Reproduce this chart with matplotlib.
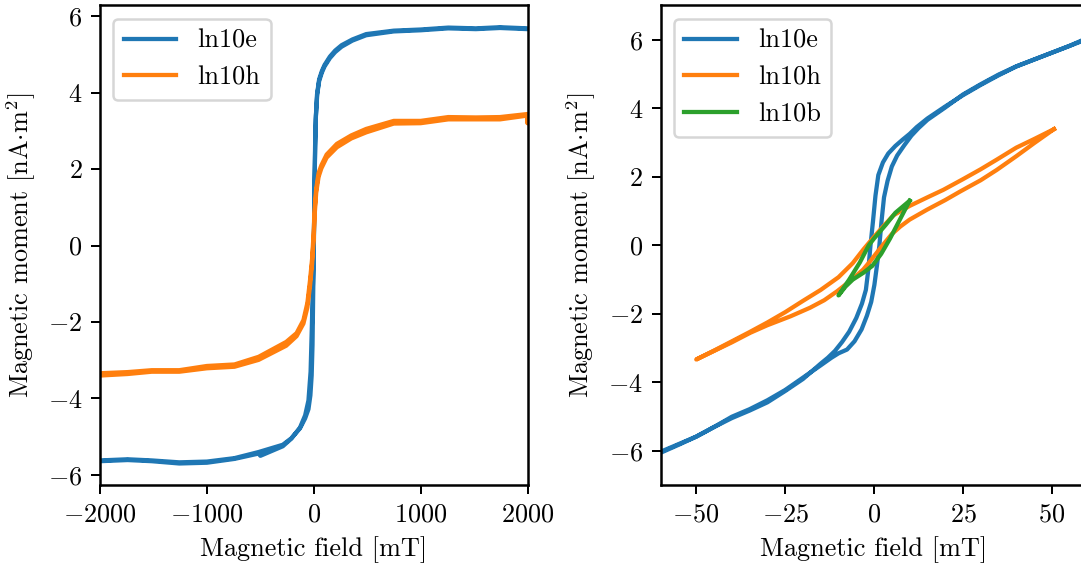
import matplotlib
matplotlib.use("Agg")
import matplotlib.pyplot as plt

plt.rcParams['font.family'] = ['cmr10']
plt.rcParams['mathtext.fontset'] = 'cm'
plt.rcParams['axes.formatter.use_mathtext'] = True
plt.rcParams['font.size'] = 10.5
plt.rcParams['axes.linewidth'] = 1.0

# ---------------- Left panel data (full field range) ----------------
# ln10e : ascending and descending field branches
e_full_up_x = [-2000, -1742, -1516, -1258, -1000, -742, -516, -500, -290, -210, -129, -81, -50, -30, -19, -8, 0, 6, 12, 20, 32, 50, 75, 100, 150, 200, 260, 361, 490, 748, 1000, 1258, 1516, 1742, 2000]
e_full_up_y = [-5.64, -5.61, -5.64, -5.70, -5.68, -5.58, -5.44, -5.50, -5.25, -5.05, -4.76, -4.44, -4.05, -3.30, -2.20, -1.00, 0.10, 1.30, 2.60, 3.40, 3.95, 4.30, 4.52, 4.68, 4.90, 5.06, 5.20, 5.36, 5.50, 5.60, 5.63, 5.68, 5.66, 5.69, 5.66]
e_full_dn_x = [2000, 1742, 1516, 1258, 1000, 748, 490, 361, 260, 200, 150, 100, 75, 50, 30, 18, 8, 0, -6, -12, -20, -32, -50, -81, -129, -210, -290, -516, -742, -1000, -1258, -1516, -1742, -2000]
e_full_dn_y = [5.68, 5.71, 5.68, 5.70, 5.65, 5.62, 5.53, 5.39, 5.24, 5.10, 4.94, 4.72, 4.56, 4.35, 3.95, 3.30, 1.80, -0.10, -1.30, -2.60, -3.40, -3.92, -4.28, -4.52, -4.78, -5.04, -5.21, -5.40, -5.56, -5.65, -5.67, -5.62, -5.59, -5.62]

# ln10h
h_full_up_x = [-2000, -1742, -1516, -1258, -1000, -742, -516, -258, -161, -97, -60, -35, -16, 0, 8, 23, 45, 71, 120, 216, 350, 490, 748, 1000, 1258, 1516, 1742, 2000, 2000]
h_full_up_y = [-3.40, -3.36, -3.30, -3.30, -3.21, -3.17, -2.99, -2.62, -2.37, -2.04, -1.62, -1.05, -0.48, 0.25, 0.80, 1.40, 1.80, 2.02, 2.30, 2.57, 2.80, 2.96, 3.19, 3.20, 3.30, 3.30, 3.30, 3.40, 3.20]
h_full_dn_x = [2000, 1742, 1516, 1258, 1000, 748, 490, 350, 216, 120, 71, 45, 23, 8, 0, -16, -35, -60, -97, -161, -258, -516, -742, -1000, -1258, -1516, -1742, -2000]
h_full_dn_y = [3.44, 3.36, 3.35, 3.36, 3.26, 3.26, 3.05, 2.88, 2.66, 2.38, 2.10, 1.90, 1.50, 0.95, 0.40, -0.35, -0.90, -1.50, -1.95, -2.29, -2.52, -2.91, -3.11, -3.15, -3.26, -3.26, -3.31, -3.34]

# ---------------- Right panel data (low field range) ----------------
# ln10e
e_low_dn_x = [60, 55, 50, 45, 40, 35, 30, 25, 20, 15, 12, 10, 8, 6, 4, 2.5, 1.2, 0.4, -0.3, -1.0, -1.6, -2.3, -3.4, -5, -7, -9, -11, -13, -15, -20, -25, -30, -35, -40, -45, -50, -55, -60]
e_low_dn_y = [6.05, 5.82, 5.62, 5.42, 5.22, 4.96, 4.68, 4.38, 4.05, 3.70, 3.45, 3.25, 3.08, 2.90, 2.68, 2.42, 2.05, 1.45, 0.70, 0.00, -0.70, -1.30, -1.70, -2.12, -2.52, -2.82, -3.08, -3.28, -3.45, -3.90, -4.25, -4.58, -4.82, -5.04, -5.30, -5.58, -5.80, -6.02]
e_low_up_x = [-60, -55, -50, -45, -40, -35, -30, -25, -20, -15, -12, -10, -7.6, -5.5, -3.5, -2.0, -0.8, 0.1, 0.8, 1.5, 2.1, 2.8, 3.8, 5.0, 6.5, 8.5, 10.5, 12.5, 15, 20, 25, 30, 35, 40, 45, 50, 55, 60]
e_low_up_y = [-6.05, -5.82, -5.58, -5.30, -5.00, -4.78, -4.52, -4.22, -3.86, -3.50, -3.28, -3.15, -3.04, -2.80, -2.45, -2.05, -1.65, -1.15, -0.60, 0.00, 0.70, 1.40, 1.88, 2.30, 2.62, 2.92, 3.20, 3.42, 3.66, 4.02, 4.40, 4.70, 4.98, 5.22, 5.42, 5.62, 5.82, 6.02]

# ln10h
h_low_dn_x = [50.6, 45, 40, 34.5, 30, 25, 19.5, 15, 10, 5.5, 3, 0, -3, -6, -10, -15, -20, -25, -30, -35, -40, -45, -50]
h_low_dn_y = [3.39, 3.10, 2.85, 2.50, 2.22, 1.93, 1.62, 1.40, 1.15, 0.88, 0.60, 0.25, -0.12, -0.52, -0.93, -1.30, -1.62, -1.95, -2.25, -2.53, -2.80, -3.07, -3.33]
h_low_up_x = [-50, -45, -40, -34.8, -30, -23.5, -18, -14, -10.4, -6, -3, -1, 2, 5, 7.4, 10, 14.9, 20, 24.2, 30, 34.5, 40, 45, 50.6]
h_low_up_y = [-3.33, -3.08, -2.83, -2.55, -2.33, -2.07, -1.82, -1.60, -1.34, -0.98, -0.70, -0.45, -0.05, 0.33, 0.55, 0.75, 1.04, 1.32, 1.57, 1.90, 2.20, 2.60, 2.98, 3.39]

# ln10b
b_low_dn_x = [10, 6, 3.3, 0, -1.5, -4, -7, -10]
b_low_dn_y = [1.30, 0.95, 0.60, 0.20, 0.00, -0.50, -1.00, -1.46]
b_low_up_x = [-10, -8, -6, -3, -0.5, 2, 4.5, 7, 10]
b_low_up_y = [-1.46, -1.20, -1.00, -0.80, -0.60, -0.25, 0.20, 0.70, 1.30]

C_E, C_H, C_B = '#1f77b4', '#ff7f0e', '#2ca02c'
LW = 1.7

W, H, DPI = 1081, 569, 180
fig = plt.figure(figsize=(W / DPI, H / DPI), dpi=DPI)

bottom = (H - 485.3) / H
height = (485.3 - 5.4) / H
ax1 = fig.add_axes([100 / W, bottom, 427.6 / W, height])
ax2 = fig.add_axes([660.7 / W, bottom, 426.7 / W, height])

ax1.plot(e_full_up_x + e_full_dn_x, e_full_up_y + e_full_dn_y, color=C_E, lw=LW, label='ln10e')
ax1.plot(h_full_up_x + h_full_dn_x, h_full_up_y + h_full_dn_y, color=C_H, lw=LW, label='ln10h')
ax1.set_xlim(-2000, 2000)
ax1.set_xticks([-2000, -1000, 0, 1000, 2000])
ax1.set_yticks([-6, -4, -2, 0, 2, 4, 6])
ax1.set_xlabel('Magnetic field [mT]')
ax1.set_ylabel(r'Magnetic moment [nA$\cdot$m$^2$]')
ax1.legend(loc='upper left')

ax2.plot(e_low_dn_x + e_low_up_x, e_low_dn_y + e_low_up_y, color=C_E, lw=LW, label='ln10e')
ax2.plot(h_low_dn_x + h_low_up_x, h_low_dn_y + h_low_up_y, color=C_H, lw=LW, label='ln10h')
ax2.plot(b_low_dn_x + b_low_up_x, b_low_dn_y + b_low_up_y, color=C_B, lw=LW, label='ln10b')
ax2.set_xlim(-60, 60)
ax2.set_ylim(-7, 7)
ax2.set_xticks([-50, -25, 0, 25, 50])
ax2.set_yticks([-6, -4, -2, 0, 2, 4, 6])
ax2.set_xlabel('Magnetic field [mT]')
ax2.set_ylabel(r'Magnetic moment [nA$\cdot$m$^2$]')
ax2.legend(loc='upper left')

fig.savefig('out.png', dpi=DPI)
